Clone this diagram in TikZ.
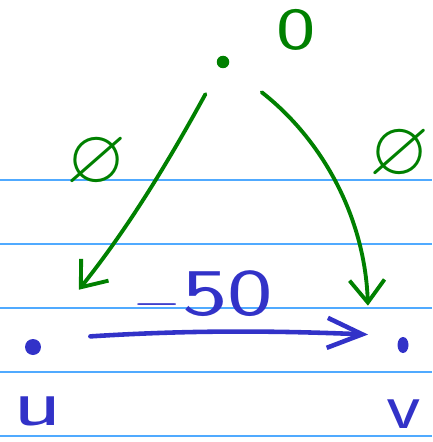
\documentclass[tikz,border=0pt]{standalone}
\usepackage{amssymb}
\usetikzlibrary{arrows.meta,positioning,shapes.geometric}
\definecolor{inkgreen}{RGB}{0,128,0}
\definecolor{inkblue}{RGB}{50,50,200}
\definecolor{ruleblue}{RGB}{80,170,255}

\begin{document}
\begin{tikzpicture}[
		x=0.02cm, y=-0.02cm,
		vertex/.style={circle, fill, inner sep=0pt, minimum size=0.3cm},
		greenarrow/.style={-{Straight Barb[length=0.45cm, width=0.7cm]}, line width=2.2pt, inkgreen, line cap=round},
		bluearrow/.style={-{Straight Barb[length=0.7cm, width=0.6cm]}, line width=2.6pt, inkblue, line cap=round},
		lbl/.style={font=\fontsize{34}{34}\selectfont\sffamily},
		biglbl/.style={font=\fontsize{44}{44}\selectfont\sffamily},
		namelbl/.style={font=\fontsize{38}{38}\selectfont\sffamily, inkblue, inner sep=0pt}
		]
		
		\useasboundingbox (0,0) rectangle (432,442);
		
		% --- ruled paper ---
		\foreach \y in {180,244,308,372,436}
		\draw[ruleblue, line width=0.8pt] (0,\y) -- (432,\y);
		
		% --- Vertices ---
		\node[vertex, inkgreen, minimum size=0.25cm] (s) at (223,62) {};
		\node[vertex, inkblue, minimum size=0.32cm] (u) at (33,347) {};
		\node[ellipse, fill, inkblue, inner sep=0pt, minimum width=0.22cm, minimum height=0.32cm] (v) at (403,345) {};
		
		% --- Labels ---
		\node[lbl, inkgreen, xscale=1.4] (sdist) at (296,30) {0};
		\node[biglbl, inkgreen] (udist) at (97,163) {$\varnothing$};
		\node[biglbl, inkgreen] (vdist) at (400,155) {$\varnothing$};
		\node[namelbl, xscale=1.5] (uname) at (38,411) {u};
		\node[namelbl, xscale=1.2] (vname) at (404,414) {v};
		
		% --- Arrows ---
		\draw[greenarrow, shorten <=0.6cm, shorten >=1.3cm] (s) to[bend left=5] (u);
		\draw[greenarrow, shorten <=0.85cm, shorten >=0.62cm]
		(s) to[out=-38, in=92] ([xshift=-0.68cm]v.north);
		\draw[bluearrow, shorten <=1.15cm, shorten >=0.7cm]
		([yshift=0.14cm]u.center) to[bend left=3]
		node[lbl, above=0.1cm, xshift=-0.3cm, xscale=1.45, font=\fontsize{38}{38}\selectfont\sffamily] {$-$50}
		([yshift=0.18cm]v.center);
		
	\end{tikzpicture}
\end{document}
